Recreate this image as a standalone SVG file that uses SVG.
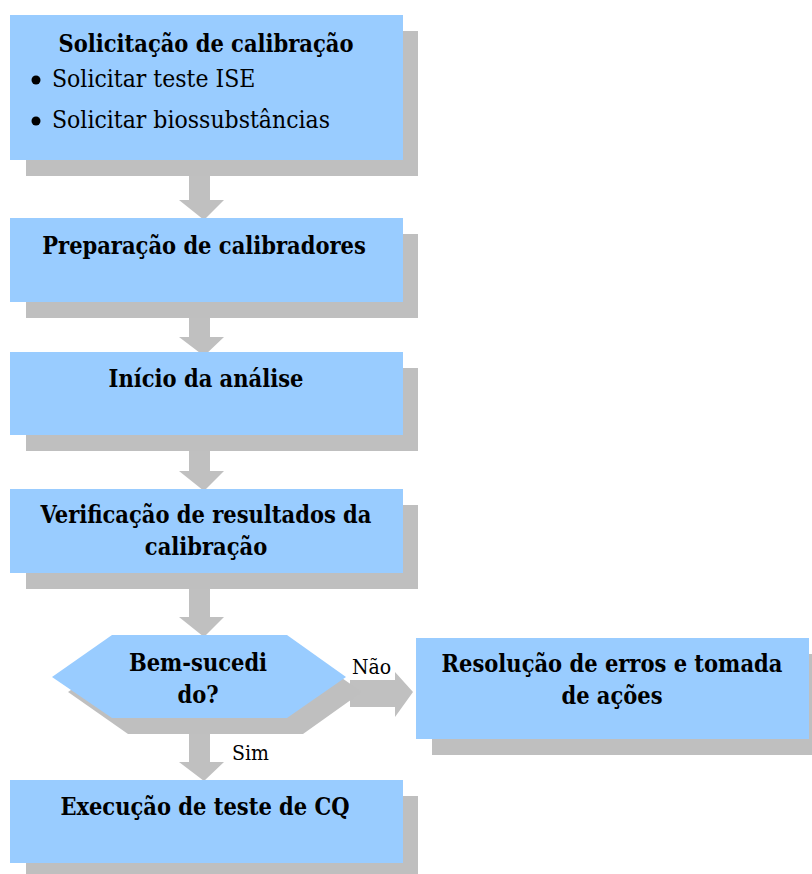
<svg xmlns="http://www.w3.org/2000/svg" width="812" height="874" viewBox="0 0 812 874">
<style>
.box{fill:#99CCFF}
.sh{fill:#BFBFBF}
.arr{fill:#C0C0C0}
.dk{fill:#A6A6A6}
.t{font-family:"DejaVu Serif Condensed","DejaVu Serif",serif;font-stretch:condensed;font-weight:bold;font-size:23.4px;fill:#000;text-anchor:middle}
.n{font-family:"DejaVu Serif Condensed","DejaVu Serif",serif;font-stretch:condensed;font-size:24.5px;fill:#000}
.l{font-family:"DejaVu Serif Condensed","DejaVu Serif",serif;font-stretch:condensed;font-size:21px;fill:#000}
</style>
<rect width="812" height="874" fill="#fff"/>
<g id="connectors">
<g id="a1"><path class="arr" d="M189,160 H210 V200 H224 L204,220 L179,200 H189 Z"/><rect class="dk" x="210" y="160" width="5" height="16"/></g>
<g id="a2"><path class="arr" d="M189,302 H210 V337 H224 L204,356 L179,337 H189 Z"/><rect class="dk" x="210" y="302" width="5" height="16"/></g>
<g id="a3"><path class="arr" d="M189,435 H210 V471 H224 L204,491 L179,471 H189 Z"/><rect class="dk" x="210" y="435" width="5" height="16"/></g>
<g id="a4"><path class="arr" d="M189,573 H210 V617 H224 L204,637 L179,617 H189 Z"/><rect class="dk" x="210" y="573" width="5" height="16"/></g>
<g id="a5"><path class="arr" d="M189,718 H210 V762 H224 L204,781 L179,762 H189 Z"/><rect class="dk" x="210" y="725" width="5" height="9"/></g>
<g id="a6"><path class="arr" d="M350,680 H395 V672 L413,692 L395,717 V707 H350 Z"/></g>
<text class="l" x="352" y="674">Não</text>
<text class="l" x="232" y="760">Sim</text>
</g>
<g id="n1">
<rect class="sh" x="26" y="31" width="392" height="145"/>
<rect class="box" x="10" y="15" width="393" height="145"/>
<text class="t" x="206" y="52">Solicitação de calibração</text>
<circle cx="36" cy="80" r="4.5" fill="#000"/>
<text class="n" x="52" y="87">Solicitar teste ISE</text>
<circle cx="36" cy="121" r="4.5" fill="#000"/>
<text class="n" x="52" y="128">Solicitar biossubstâncias</text>
</g>
<g id="n2">
<rect class="sh" x="26" y="234" width="392" height="84"/>
<rect class="box" x="10" y="218" width="393" height="84"/>
<text class="t" x="204" y="254">Preparação de calibradores</text>
</g>
<g id="n3">
<rect class="sh" x="26" y="368" width="392" height="83"/>
<rect class="box" x="10" y="352" width="393" height="83"/>
<text class="t" x="206" y="387">Início da análise</text>
</g>
<g id="n4">
<rect class="sh" x="26" y="505" width="392" height="84"/>
<rect class="box" x="10" y="489" width="393" height="84"/>
<text class="t" x="206" y="523">Verificação de resultados da</text>
<text class="t" x="206" y="555">calibração</text>
</g>
<g id="n5">
<path class="sh" d="M68,692 L128,651 H303 L362,692 L303,734 H128 Z"/>
<path class="box" d="M52,677 L112,635 H287 L346,677 L287,718 H112 Z"/>
<text class="t" x="198" y="671">Bem-sucedi</text>
<text class="t" x="198" y="703">do?</text>
</g>
<g id="n6">
<rect class="sh" x="432" y="654" width="380" height="101"/>
<rect class="box" x="416" y="638" width="393" height="101"/>
<text class="t" x="612" y="672">Resolução de erros e tomada</text>
<text class="t" x="612" y="704">de ações</text>
</g>
<g id="n7">
<rect class="sh" x="26" y="796" width="392" height="78"/>
<rect class="box" x="10" y="780" width="393" height="83"/>
<text class="t" x="205" y="815">Execução de teste de CQ</text>
</g>
</svg>
